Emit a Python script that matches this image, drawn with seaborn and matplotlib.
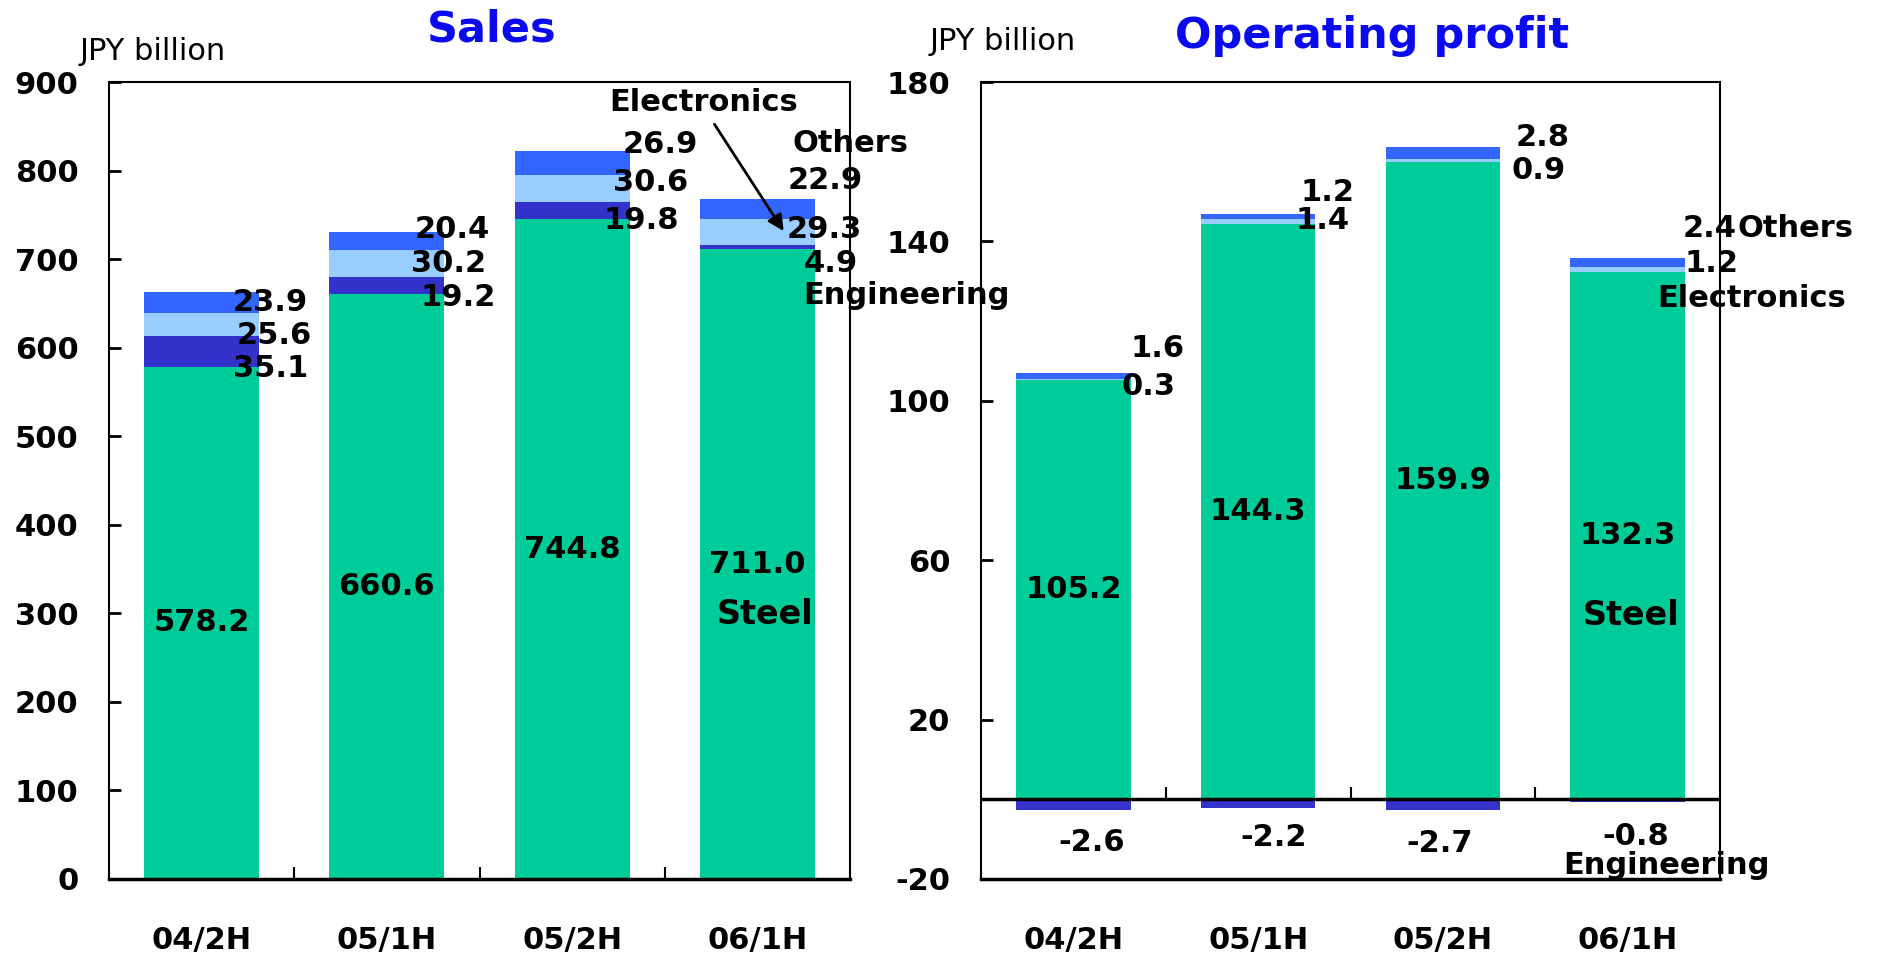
import numpy as np
import matplotlib
matplotlib.use("Agg")
import matplotlib.pyplot as plt
import seaborn as sns
from matplotlib.ticker import FixedLocator

# ---------------- data ----------------
periods = ["04/2H", "05/1H", "05/2H", "06/1H"]

sales_steel = [578.2, 660.6, 744.8, 711.0]
sales_eng = [35.1, 19.2, 19.8, 4.9]
sales_elec = [25.6, 30.2, 30.6, 29.3]
sales_others = [23.9, 20.4, 26.9, 22.9]

op_steel = [105.2, 144.3, 159.9, 132.3]
op_eng = [-2.6, -2.2, -2.7, -0.8]
op_elec = [0.3, 1.4, 0.9, 1.2]
op_others = [1.6, 1.2, 2.8, 2.4]

sales_ticks = [0, 100, 200, 300, 400, 500, 600, 700, 800, 900]
op_ticks = [-20, 20, 60, 100, 140, 180]

# ---------------- style ----------------
sns.set_theme(style="white")
plt.rcParams["font.family"] = ["DejaVu Sans"]
plt.rcParams["font.weight"] = "bold"
plt.rcParams["text.color"] = "black"
plt.rcParams["axes.unicode_minus"] = False

C_STEEL = "#00CC99"
C_ENG = "#3333CC"
C_ELEC = "#99CCFF"
C_OTH = "#3366FF"
C_TITLE = "#0A0AEE"
FS = 22

W, H = 1880, 958
fig = plt.figure(figsize=(W / 100, H / 100), dpi=100)
ax1 = fig.add_axes([109 / W, 79 / H, 741 / W, 797 / H])
ax2 = fig.add_axes([981 / W, 79 / H, 739 / W, 797 / H])
ax2.patch.set_alpha(0)

def bars(ax, vals, color):
    sns.barplot(x=periods, y=vals, color=color, saturation=1, width=0.62,
                errorbar=None, linewidth=0, ax=ax)

# ---------------- Sales ----------------
s = np.array(sales_steel)
e = np.array(sales_eng)
el = np.array(sales_elec)
o = np.array(sales_others)
for vals, c in [(s + e + el + o, C_OTH), (s + e + el, C_ELEC), (s + e, C_ENG), (s, C_STEEL)]:
    bars(ax1, vals, c)

ax1.set_xlim(-0.5, 3.5)
ax1.set_ylim(0, 900)
ax1.set_yticks(sales_ticks)

# label layout (left x, centre y)
sales_oth_pos = [(0.169, 651), (1.152, 733), (2.275, 829), (3.165, 789)]
sales_elec_pos = [(0.19, 614), (1.13, 695), (2.22, 786), (3.16, 733)]
sales_eng_pos = [(0.169, 577), (1.184, 657), (2.167, 744), (3.25, 695)]
for vals, pos in [(sales_others, sales_oth_pos), (sales_elec, sales_elec_pos), (sales_eng, sales_eng_pos)]:
    for v, (x, y) in zip(vals, pos):
        ax1.text(x, y, f"{v:.1f}", ha="left", va="center", fontsize=FS)
for i, v in enumerate(sales_steel):
    ax1.text(i, v / 2, f"{v:.1f}", ha="center", va="center", fontsize=FS)
ax1.text(3.04, 299, "Steel", ha="center", va="center", fontsize=FS + 2)
ax1.text(2.199, 877, "Electronics", ha="left", va="center", fontsize=FS)
ax1.text(3.19, 830, "Others", ha="left", va="center", fontsize=FS)
ax1.text(3.25, 659, "Engineering", ha="left", va="center", fontsize=FS, zorder=10)
ax1.annotate("", xy=(3.15, 729), xytext=(2.76, 855),
             arrowprops=dict(arrowstyle="-|>", color="black", lw=2, mutation_scale=24))

ax1.xaxis.set_minor_locator(FixedLocator([0.5, 1.5, 2.5]))

# ---------------- Operating profit ----------------
s2 = np.array(op_steel)
el2 = np.array(op_elec)
o2 = np.array(op_others)
for vals, c in [(s2 + el2 + o2, C_OTH), (s2 + el2, C_ELEC), (s2, C_STEEL)]:
    bars(ax2, vals, c)
bars(ax2, op_eng, C_ENG)

ax2.set_xlim(-0.5, 3.5)
ax2.set_ylim(-20, 180)
ax2.set_yticks(op_ticks)
ax2.axhline(0, color="black", lw=2.5, zorder=5)
ax2.vlines([0.5, 1.5, 2.5], 0, 3, color="black", lw=1.5, zorder=5)

op_oth_pos = [(0.31, 113), (1.232, 152.3), (2.396, 166), (3.30, 143.3)]
op_elec_pos = [(0.26, 103.6), (1.205, 145.2), (2.369, 157.8), (3.31, 134.5)]
oth_texts = []
for vals, pos in [(op_others, op_oth_pos), (op_elec, op_elec_pos)]:
    for v, (x, y) in zip(vals, pos):
        oth_texts.append(ax2.text(x, y, f"{v:.1f}", ha="left", va="center", fontsize=FS))
op_eng_pos = [(0.10, -10.8), (1.086, -9.7), (1.98, -11.1), (3.045, -9.4)]
for v, (x, y) in zip(op_eng, op_eng_pos):
    ax2.text(x, y, f"{v:.1f}", ha="center", va="center", fontsize=FS)
for i, v in enumerate(op_steel):
    ax2.text(i, v / 2, f"{v:.1f}", ha="center", va="center", fontsize=FS)
ax2.text(3.02, 46, "Steel", ha="center", va="center", fontsize=FS + 2)
ax2.annotate("Others", xy=(1, 0.5), xycoords=oth_texts[3], ha="left", va="center",
             fontsize=FS)
ax2.text(3.16, 125.7, "Electronics", ha="left", va="center", fontsize=FS)
ax2.text(3.21, -16.6, "Engineering", ha="center", va="center", fontsize=FS)

# ---------------- axes styling ----------------
for ax in (ax1, ax2):
    ax.set_xlabel("")
    ax.set_ylabel("")
    ax.grid(False)
    for side, sp in ax.spines.items():
        sp.set_visible(True)
        sp.set_color("black")
        sp.set_linewidth(2.5 if side == "bottom" else 1.5)
    ax.tick_params(axis="y", which="major", direction="in", left=True, length=8.5,
                   width=2, pad=22, labelsize=FS, colors="black")
    ax.tick_params(axis="x", which="major", length=0, pad=34, labelsize=FS,
                   colors="black")
    for lab in ax.get_xticklabels() + ax.get_yticklabels():
        lab.set_fontweight("bold")
ax1.tick_params(axis="x", which="minor", direction="in", bottom=True, length=8.5,
                width=1.5, color="black")

# ---------------- titles ----------------
fig.text(492 / W, 1 - 30 / H, "Sales", ha="center", va="center", fontsize=31,
         color=C_TITLE, fontweight="bold")
fig.text(1372 / W, 1 - 36 / H, "Operating profit", ha="center", va="center",
         fontsize=31, color=C_TITLE, fontweight="bold")
fig.text(80 / W, 1 - 52 / H, "JPY billion", ha="left", va="center", fontsize=22,
         fontweight="normal")
fig.text(930 / W, 1 - 42 / H, "JPY billion", ha="left", va="center", fontsize=22,
         fontweight="normal")

fig.savefig("out.png", dpi=100, facecolor="white")
